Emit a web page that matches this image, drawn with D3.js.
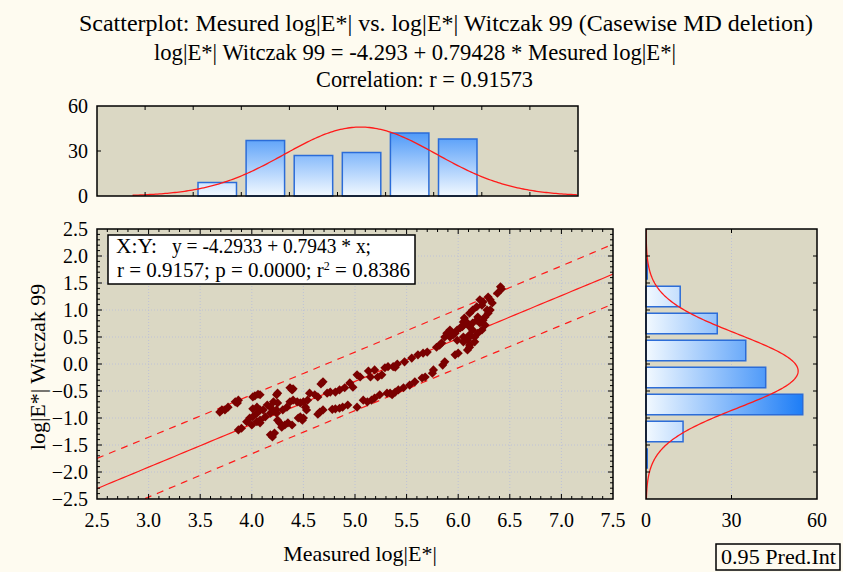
<!DOCTYPE html>
<html><head><meta charset="utf-8">
<script src="https://cdn.jsdelivr.net/npm/d3@7"></script>
<style>
body{margin:0;background:#FEFBF0;}
svg{display:block;font-family:"Liberation Serif","Times New Roman",serif;}
</style>
</head><body>
<svg id="chart" width="843" height="572"></svg>
<script>
// ---------------- DATA ----------------
const titleLines = [
  "Scatterplot: Mesured log|E*| vs. log|E*| Witczak 99 (Casewise MD deletion)",
  "log|E*| Witczak 99 = -4.293 + 0.79428 * Mesured log|E*|",
  "Correlation: r = 0.91573"
];
const xAxisTitle = "Measured log|E*|";
const yAxisTitle = "log|E*| Witczak 99";
const legendLine1a = "X:Y:";
const legendLine1b = "y = -4.2933 + 0.7943 * x;";
const legendLine2a = "r = 0.9157; p = 0.0000; r";
const legendLine2b = "2";
const legendLine2c = " = 0.8386";
const predLabel = "0.95 Pred.Int";

const xTickValues = [2.5,3.0,3.5,4.0,4.5,5.0,5.5,6.0,6.5,7.0,7.5];
const yTickValues = [2.5,2.0,1.5,1.0,0.5,0.0,-0.5,-1.0,-1.5,-2.0,-2.5];
const histTickValues = [0,30,60];

// regression / summary statistics shown in chart
const intercept = -4.2933, slope = 0.7943, rCoef = 0.9157;
const nObs = 182, meanX = 5.24, sdX = 0.79, meanY = -0.13, sdY = 0.68;
const tCrit = 1.973;

// top histogram (Measured log|E*|), bins of 0.5
const topBinStart = [3.5,4.0,4.5,5.0,5.5,6.0];
const topCounts   = [9,37,27,29,42,38];
// right histogram (Witczak 99), bins of 0.5
const rightBinStart = [1.5,1.0,0.5,0.0,-0.5,-1.0,-1.5,-2.0];
const rightCounts   = [0,12,25,35,42,55,13,0];
const binWidth = 0.5;

// scatter points
const measuredX = [3.69,3.71,3.74,3.77,3.84,3.86,3.87,4.01,4.03,4.06,4.08,4.25,4.24,4.37,4.39,4.40,
 3.87,3.90,3.95,3.98,4.01,4.00,4.05,4.08,4.08,4.05,4.01,4.05,4.08,4.11,4.13,4.15,4.18,4.21,4.18,4.21,
 4.24,4.24,4.25,4.30,4.34,4.37,4.40,4.44,4.47,4.52,4.53,4.25,4.27,4.29,4.32,4.39,4.45,4.47,4.49,4.50,
 4.18,4.20,4.22,4.35,4.66,4.69,4.64,4.50,4.54,4.56,4.61,4.64,4.69,4.67,4.73,4.76,4.81,4.85,4.90,4.95,
 4.98,5.02,5.05,5.13,5.15,5.19,5.22,5.26,5.29,5.32,5.37,5.41,5.39,4.85,4.88,4.93,5.02,5.08,5.12,5.16,
 5.19,5.24,5.31,5.34,5.36,5.39,5.42,5.47,5.53,5.58,5.65,5.68,5.75,5.76,5.85,5.87,5.97,6.00,6.09,6.11,
 5.48,5.55,5.61,5.66,5.70,5.79,5.82,5.84,5.87,5.89,5.92,5.92,5.95,5.97,5.99,5.99,6.02,6.04,6.05,6.05,
 6.06,6.09,6.05,6.05,6.09,6.11,6.11,6.14,6.11,6.16,6.11,6.14,6.18,6.19,6.11,6.14,6.18,6.21,6.24,6.23,
 6.21,6.23,6.19,6.16,6.24,6.26,6.29,6.28,6.29,6.31,6.33,6.38,6.41,6.42,6.26,6.31,4.78,4.81];
const witczakY = [-0.89,-0.85,-0.85,-0.80,-0.70,-0.72,-0.67,-0.61,-0.59,-0.56,-0.57,-0.54,-0.57,-0.44,-0.48,-0.46,
 -1.22,-1.19,-1.07,-1.00,-0.98,-1.13,-1.07,-1.09,-1.04,-0.91,-0.83,-0.80,-0.85,-0.85,-0.98,-0.76,-0.80,-0.70,-0.91,-0.87,
 -0.91,-0.85,-0.72,-0.85,-0.80,-0.70,-0.67,-0.70,-0.72,-0.80,-0.85,-1.04,-1.09,-1.17,-1.13,-1.13,-1.00,-0.98,-1.04,-1.00,
 -1.31,-1.35,-1.28,-1.09,-0.89,-0.85,-0.93,-0.70,-0.67,-0.54,-0.57,-0.61,-0.33,-0.37,-0.54,-0.52,-0.52,-0.48,-0.44,-0.35,
 -0.43,-0.20,-0.24,-0.13,-0.24,-0.11,-0.24,-0.20,-0.07,-0.05,-0.05,0.00,-0.06,-0.82,-0.80,-0.76,-0.80,-0.67,-0.70,-0.67,
 -0.63,-0.57,-0.54,-0.54,-0.57,-0.52,-0.48,-0.44,-0.39,-0.33,-0.26,-0.24,-0.17,-0.11,-0.02,0.04,0.17,0.20,0.26,0.31,
 0.04,0.11,0.17,0.20,0.22,0.31,0.35,0.39,0.50,0.57,0.63,0.50,0.54,0.57,0.63,0.44,0.67,0.69,0.72,0.78,
 0.85,0.76,0.50,0.41,0.44,0.54,0.50,0.63,0.35,0.41,0.69,0.76,0.81,0.87,0.94,1.00,1.06,1.19,1.15,1.09,
 0.76,0.63,0.57,0.50,0.81,0.87,0.94,1.00,1.24,1.19,1.13,1.31,1.43,1.39,0.72,1.00,-0.84,-0.83];

// ---------------- LAYOUT ----------------
const W = 843, H = 572;
const M = {l:97, r:613, t:229, b:499};   // main scatter
const T = {l:97, r:578, t:106, b:196};   // top histogram
const R = {l:646, r:817, t:229, b:499};  // right histogram
const plotBg = "#DBD8C4", gridCol = "#BEC2D6", pointCol = "#7A0000", lineCol = "#FF1A1A";
const barStroke = "#2B6CD8";

const svg = d3.select("#chart");
svg.append("rect").attr("width",W).attr("height",H).attr("fill","#FEFBF0");

const x  = d3.scaleLinear().domain([2.5,7.5]).range([M.l,M.r]);
const y  = d3.scaleLinear().domain([-2.5,2.5]).range([M.b,M.t]);
const xt = d3.scaleLinear().domain([2.5,7.5]).range([T.l,T.r]);
const yt = d3.scaleLinear().domain([0,60]).range([T.b,T.t]);
const xr = d3.scaleLinear().domain([0,60]).range([R.l,R.r]);

const defs = svg.append("defs");
const gv = defs.append("linearGradient").attr("id","gradV").attr("gradientUnits","userSpaceOnUse")
  .attr("x1",0).attr("y1",yt(0)).attr("x2",0).attr("y2",yt(60));
gv.append("stop").attr("offset",0).attr("stop-color","#F2F9FF");
gv.append("stop").attr("offset",1).attr("stop-color","#0A72F6");
const gh = defs.append("linearGradient").attr("id","gradH").attr("gradientUnits","userSpaceOnUse")
  .attr("x1",xr(0)).attr("y1",0).attr("x2",xr(60)).attr("y2",0);
gh.append("stop").attr("offset",0).attr("stop-color","#F2F9FF");
gh.append("stop").attr("offset",1).attr("stop-color","#0A72F6");
defs.append("clipPath").attr("id","clipM").append("rect")
  .attr("x",M.l).attr("y",M.t).attr("width",M.r-M.l).attr("height",M.b-M.t);
defs.append("clipPath").attr("id","clipT").append("rect")
  .attr("x",T.l).attr("y",T.t).attr("width",T.r-T.l).attr("height",T.b-T.t);
defs.append("clipPath").attr("id","clipR").append("rect")
  .attr("x",R.l).attr("y",R.t).attr("width",R.r-R.l).attr("height",R.b-R.t);

// ---------------- TITLES ----------------
const titleX = [79,154,316], titleW = [734,522,217], titleY = [31,60,87];
titleLines.forEach((t,i)=>{
  svg.append("text").attr("x",titleX[i]).attr("y",titleY[i])
    .attr("font-size",24).attr("textLength",titleW[i]).attr("lengthAdjust","spacingAndGlyphs")
    .attr("fill","#000").text(t);
});

function normalPdf(v,m,s){ return Math.exp(-0.5*((v-m)/s)**2)/(s*Math.sqrt(2*Math.PI)); }

// ---------------- TOP HISTOGRAM ----------------
const gT = svg.append("g");
gT.append("rect").attr("x",T.l).attr("y",T.t).attr("width",T.r-T.l).attr("height",T.b-T.t).attr("fill",plotBg);
const pad = 0.05;
gT.selectAll("rect.bar").data(topBinStart.map((s,i)=>({s,c:topCounts[i]}))).join("rect")
  .attr("class","bar")
  .attr("x",d=>xt(d.s+pad)).attr("width",d=>xt(d.s+binWidth-pad)-xt(d.s+pad))
  .attr("y",d=>yt(d.c)).attr("height",d=>yt(0)-yt(d.c))
  .attr("fill","url(#gradV)").attr("stroke",barStroke).attr("stroke-width",1.5);
const topCurveX = d3.range(2.87,7.5001,0.02);
gT.append("path").attr("clip-path","url(#clipT)")
  .attr("d",d3.line().x(v=>xt(v)).y(v=>yt(nObs*binWidth*normalPdf(v,meanX,sdX)))(topCurveX))
  .attr("fill","none").attr("stroke",lineCol).attr("stroke-width",1.3);
gT.append("rect").attr("x",T.l).attr("y",T.t).attr("width",T.r-T.l).attr("height",T.b-T.t)
  .attr("fill","none").attr("stroke","#000").attr("stroke-width",1.5);
xTickValues.slice(1,-1).forEach(v=>{
  gT.append("line").attr("x1",xt(v)).attr("x2",xt(v)).attr("y1",T.t).attr("y2",T.t+4).attr("stroke","#000");
  gT.append("line").attr("x1",xt(v)).attr("x2",xt(v)).attr("y1",T.b).attr("y2",T.b-4).attr("stroke","#000");
});
gT.append("line").attr("x1",T.l).attr("x2",T.l+4).attr("y1",yt(30)).attr("y2",yt(30)).attr("stroke","#000");
gT.append("line").attr("x1",T.r).attr("x2",T.r-4).attr("y1",yt(30)).attr("y2",yt(30)).attr("stroke","#000");
histTickValues.forEach(v=>{
  gT.append("text").attr("x",88).attr("y",yt(v)).attr("dy","0.35em").attr("text-anchor","end")
    .attr("font-size",20).text(v);
});

// ---------------- MAIN SCATTER ----------------
const gM = svg.append("g");
gM.append("rect").attr("x",M.l).attr("y",M.t).attr("width",M.r-M.l).attr("height",M.b-M.t).attr("fill",plotBg);
// grid
xTickValues.slice(1,-1).forEach(v=>{
  gM.append("line").attr("x1",x(v)).attr("x2",x(v)).attr("y1",M.t).attr("y2",M.b)
    .attr("stroke",gridCol).attr("stroke-width",1).attr("stroke-dasharray","1,2");
});
yTickValues.slice(1,-1).forEach(v=>{
  gM.append("line").attr("x1",M.l).attr("x2",M.r).attr("y1",y(v)).attr("y2",y(v))
    .attr("stroke",gridCol).attr("stroke-width",1).attr("stroke-dasharray","1,2");
});
// regression line and prediction interval
const sRes = sdY*Math.sqrt(1-rCoef*rCoef)*Math.sqrt((nObs-1)/(nObs-2));
const Sxx = (nObs-1)*sdX*sdX;
const lineX = d3.range(2.5,7.5001,0.05);
const gL = gM.append("g").attr("clip-path","url(#clipM)");
gL.append("path").attr("d",d3.line().x(v=>x(v)).y(v=>y(intercept+slope*v))(lineX))
  .attr("fill","none").attr("stroke",lineCol).attr("stroke-width",1.2);
const piX = d3.range(2.5,7.4501,0.05);
[1,-1].forEach(sg=>{
  gL.append("path").attr("d",d3.line().x(v=>x(v))
      .y(v=>y(intercept+slope*v + sg*tCrit*sRes*Math.sqrt(1+1/nObs+(v-meanX)**2/Sxx)))(piX))
    .attr("fill","none").attr("stroke",lineCol).attr("stroke-width",1.2).attr("stroke-dasharray","7,6");
});
// points
const sym = d3.symbol().type(d3.symbolSquare).size(42);
gM.append("g").attr("clip-path","url(#clipM)").selectAll("path.pt")
  .data(measuredX.map((v,i)=>[v,witczakY[i]])).join("path").attr("class","pt")
  .attr("d",sym).attr("transform",d=>`translate(${x(d[0])},${y(d[1])}) rotate(45)`)
  .attr("fill",pointCol);
// frame + ticks
gM.append("rect").attr("x",M.l).attr("y",M.t).attr("width",M.r-M.l).attr("height",M.b-M.t)
  .attr("fill","none").attr("stroke","#000").attr("stroke-width",1.5);
d3.range(2.6,7.45,0.1).forEach(v=>{
  const major = Math.abs(v*2-Math.round(v*2))<1e-6;
  const len = major?5:3;
  gM.append("line").attr("x1",x(v)).attr("x2",x(v)).attr("y1",M.b).attr("y2",M.b-len).attr("stroke","#000");
  gM.append("line").attr("x1",x(v)).attr("x2",x(v)).attr("y1",M.t).attr("y2",M.t+len).attr("stroke","#000");
});
d3.range(-2.4,2.45,0.1).forEach(v=>{
  const major = Math.abs(v*2-Math.round(v*2))<1e-6;
  const len = major?5:3;
  gM.append("line").attr("x1",M.l).attr("x2",M.l+len).attr("y1",y(v)).attr("y2",y(v)).attr("stroke","#000");
  gM.append("line").attr("x1",M.r).attr("x2",M.r-len).attr("y1",y(v)).attr("y2",y(v)).attr("stroke","#000");
});
xTickValues.forEach(v=>{
  gM.append("text").attr("x",x(v)).attr("y",527).attr("text-anchor","middle").attr("font-size",20)
    .text(d3.format(".1f")(v));
});
yTickValues.forEach(v=>{
  gM.append("text").attr("x",88).attr("y",y(v)).attr("dy","0.35em").attr("text-anchor","end").attr("font-size",20)
    .text(d3.format(".1f")(v));
});
// legend box
gM.append("rect").attr("x",108).attr("y",235).attr("width",307).attr("height",49)
  .attr("fill","#fff").attr("stroke","#000").attr("stroke-width",1.5);
gM.append("text").attr("x",116).attr("y",253).attr("font-size",20)
  .attr("textLength",41).attr("lengthAdjust","spacingAndGlyphs").text(legendLine1a);
gM.append("text").attr("x",172).attr("y",253).attr("font-size",20)
  .attr("textLength",199).attr("lengthAdjust","spacingAndGlyphs").text(legendLine1b);
const l2 = gM.append("text").attr("x",117).attr("y",277).attr("font-size",21);
l2.append("tspan").text(legendLine2a);
l2.append("tspan").attr("font-size",12).attr("dy",-7).text(legendLine2b);
l2.append("tspan").attr("dy",7).text(legendLine2c);

// axis titles
svg.append("text").attr("x",360).attr("y",561).attr("text-anchor","middle").attr("font-size",22).text(xAxisTitle);
svg.append("text").attr("transform","translate(45,367) rotate(-90)").attr("text-anchor","middle")
  .attr("font-size",22).text(yAxisTitle);

// ---------------- RIGHT HISTOGRAM ----------------
const gR = svg.append("g");
gR.append("rect").attr("x",R.l).attr("y",R.t).attr("width",R.r-R.l).attr("height",R.b-R.t).attr("fill",plotBg);
gR.append("line").attr("x1",xr(30)).attr("x2",xr(30)).attr("y1",R.t).attr("y2",R.b)
  .attr("stroke",gridCol).attr("stroke-dasharray","1,2");
const padR = 0.06;
const rData = rightBinStart.map((s,i)=>({s,c:rightCounts[i]}));
gR.selectAll("rect.bar").data(rData.filter(d=>d.c>0)).join("rect")
  .attr("class","bar")
  .attr("x",xr(0)).attr("width",d=>xr(d.c)-xr(0))
  .attr("y",d=>y(d.s+binWidth-padR)).attr("height",d=>y(d.s+padR)-y(d.s+binWidth-padR))
  .attr("fill","url(#gradH)").attr("stroke",barStroke).attr("stroke-width",1.5);
gR.selectAll("line.zero").data(rData.filter(d=>d.c===0)).join("line")
  .attr("class","zero")
  .attr("x1",xr(0)+1).attr("x2",xr(0)+1)
  .attr("y1",d=>y(d.s+binWidth-padR)).attr("y2",d=>y(d.s+padR))
  .attr("stroke",barStroke).attr("stroke-width",2);
const rightCurveY = d3.range(-2.5,2.5001,0.02);
gR.append("path").attr("clip-path","url(#clipR)")
  .attr("d",d3.line().x(v=>xr(nObs*binWidth*normalPdf(v,meanY,sdY))).y(v=>y(v))(rightCurveY))
  .attr("fill","none").attr("stroke",lineCol).attr("stroke-width",1.3);
gR.append("rect").attr("x",R.l).attr("y",R.t).attr("width",R.r-R.l).attr("height",R.b-R.t)
  .attr("fill","none").attr("stroke","#000").attr("stroke-width",1.5);
yTickValues.slice(1,-1).forEach(v=>{
  gR.append("line").attr("x1",R.r).attr("x2",R.r-4).attr("y1",y(v)).attr("y2",y(v)).attr("stroke","#000");
  gR.append("line").attr("x1",R.l).attr("x2",R.l+4).attr("y1",y(v)).attr("y2",y(v)).attr("stroke","#000");
});
gR.append("line").attr("x1",xr(30)).attr("x2",xr(30)).attr("y1",R.b).attr("y2",R.b-4).attr("stroke","#000");
gR.append("line").attr("x1",xr(30)).attr("x2",xr(30)).attr("y1",R.t).attr("y2",R.t+4).attr("stroke","#000");
histTickValues.forEach(v=>{
  gR.append("text").attr("x",xr(v)).attr("y",527).attr("text-anchor","middle").attr("font-size",20).text(v);
});

// prediction interval label box
svg.append("rect").attr("x",716).attr("y",544).attr("width",124).attr("height",26)
  .attr("fill","none").attr("stroke","#000").attr("stroke-width",1.5);
svg.append("text").attr("x",721).attr("y",564).attr("font-size",20)
  .attr("textLength",115).attr("lengthAdjust","spacingAndGlyphs").text(predLabel);
</script>
</body></html>
